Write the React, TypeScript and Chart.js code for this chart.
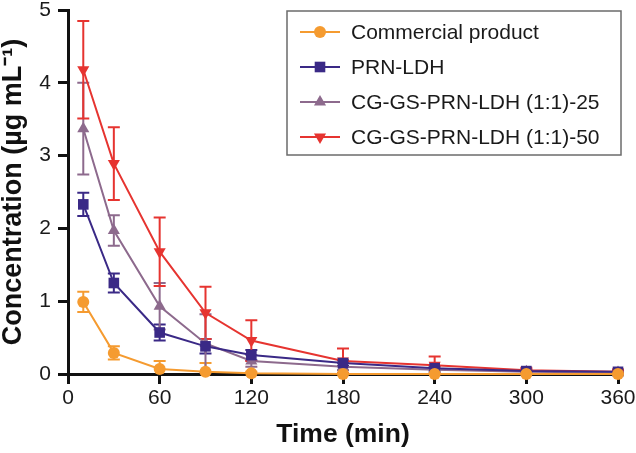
import React, { useEffect, useRef } from "react";
import { Chart, registerables } from "chart.js";

Chart.register(...registerables);

// ---- Data ----
const times = [10, 30, 60, 90, 120, 180, 240, 300, 360];
const seriesNames = [
  "Commercial product",
  "PRN-LDH",
  "CG-GS-PRN-LDH (1:1)-25",
  "CG-GS-PRN-LDH (1:1)-50",
];
const commercial = [0.99, 0.29, 0.07, 0.03, 0.01, 0.0, 0.0, 0.0, 0.0];
const commercialErr = [0.14, 0.09, 0.11, 0.12, 0.02, 0.01, 0.01, 0.01, 0.01];
const prnLdh = [2.33, 1.25, 0.57, 0.38, 0.26, 0.15, 0.08, 0.04, 0.03];
const prnLdhErr = [0.16, 0.13, 0.11, 0.1, 0.07, 0.04, 0.03, 0.02, 0.02];
const cg25 = [3.37, 1.97, 0.93, 0.42, 0.18, 0.1, 0.06, 0.03, 0.02];
const cg25Err = [0.63, 0.21, 0.32, 0.4, 0.08, 0.05, 0.03, 0.02, 0.02];
const cg50 = [4.18, 2.89, 1.68, 0.84, 0.46, 0.18, 0.12, 0.05, 0.03];
const cg50Err = [0.67, 0.5, 0.47, 0.36, 0.28, 0.17, 0.12, 0.03, 0.02];
const xTicks = [0, 60, 120, 180, 240, 300, 360];
const yTicks = [0, 1, 2, 3, 4, 5];

const seriesValues = [commercial, prnLdh, cg25, cg50];
const seriesErrors = [commercialErr, prnLdhErr, cg25Err, cg50Err];
const colors = ["#F59B30", "#3A2986", "#8D6A8D", "#E63430"];
const pointStyles = ["circle", "rect", "triangle", "triangle"];
const rotations = [0, 0, 0, 180];
const radii = [6, 7.5, 7, 7];

const FONT = "'Liberation Sans', Arial, sans-serif";

function drawMarker(ctx: CanvasRenderingContext2D, style: string, x: number, y: number, r: number, rot: number) {
  ctx.beginPath();
  if (style === "circle") {
    ctx.arc(x, y, r, 0, Math.PI * 2);
  } else if (style === "rect") {
    const s = r * Math.SQRT2;
    ctx.rect(x - s / 2, y - s / 2, s, s);
  } else {
    const a = (rot * Math.PI) / 180;
    for (let k = 0; k < 3; k++) {
      const ang = a - Math.PI / 2 + (k * 2 * Math.PI) / 3;
      const px = x + Math.cos(ang) * r;
      const py = y + Math.sin(ang) * r;
      if (k === 0) ctx.moveTo(px, py);
      else ctx.lineTo(px, py);
    }
    ctx.closePath();
  }
  ctx.fill();
}

const errorBarPlugin = {
  id: "errorBars",
  beforeDatasetsDraw(chart: any) {
    const ctx = chart.ctx as CanvasRenderingContext2D;
    const xs = chart.scales.x;
    const ys = chart.scales.y;
    ctx.save();
    seriesValues.forEach((vals, i) => {
      const errs = seriesErrors[i];
      ctx.strokeStyle = colors[i];
      ctx.lineWidth = 2;
      vals.forEach((v, j) => {
        const e = errs[j];
        const x = xs.getPixelForValue(times[j]);
        const yT = ys.getPixelForValue(v + e);
        const yB = ys.getPixelForValue(Math.max(0, v - e));
        const cap = 6;
        ctx.beginPath();
        ctx.moveTo(x, yT);
        ctx.lineTo(x, yB);
        ctx.moveTo(x - cap, yT);
        ctx.lineTo(x + cap, yT);
        if (v - e > 0) {
          ctx.moveTo(x - cap, yB);
          ctx.lineTo(x + cap, yB);
        }
        ctx.stroke();
      });
    });
    ctx.restore();
  },
};

const legendPlugin = {
  id: "boxLegend",
  afterDraw(chart: any) {
    const ctx = chart.ctx as CanvasRenderingContext2D;
    const left = 287;
    const top = 11;
    const right = 621;
    const bottom = 155;
    ctx.save();
    ctx.strokeStyle = "#6b6b6b";
    ctx.lineWidth = 1.5;
    ctx.fillStyle = "#ffffff";
    ctx.fillRect(left, top, right - left, bottom - top);
    ctx.strokeRect(left, top, right - left, bottom - top);
    seriesNames.forEach((name, i) => {
      const y = 32 + i * 35;
      ctx.strokeStyle = colors[i];
      ctx.fillStyle = colors[i];
      ctx.lineWidth = 2;
      ctx.beginPath();
      ctx.moveTo(300, y);
      ctx.lineTo(340, y);
      ctx.stroke();
      drawMarker(ctx, pointStyles[i], 320, y, radii[i], rotations[i]);
      ctx.fillStyle = "#1a1a1a";
      ctx.font = `21px ${FONT}`;
      ctx.textBaseline = "middle";
      ctx.textAlign = "left";
      ctx.fillText(name, 351, y + 1);
    });
    ctx.restore();
  },
};

export default function App() {
  const canvasRef = useRef<HTMLCanvasElement | null>(null);

  useEffect(() => {
    if (!canvasRef.current) return;
    const chart = new Chart(canvasRef.current, {
      type: "line",
      data: {
        datasets: seriesValues.map((vals, i) => ({
          label: seriesNames[i],
          data: vals.map((v, j) => ({ x: times[j], y: v })),
          borderColor: colors[i],
          backgroundColor: colors[i],
          borderWidth: 2,
          pointStyle: pointStyles[i] as any,
          rotation: rotations[i],
          pointRadius: radii[i],
          pointBorderWidth: 0,
          pointHoverRadius: radii[i],
          tension: 0,
          clip: false as any,
          fill: false,
        })),
      },
      options: {
        animation: false,
        responsive: false,
        maintainAspectRatio: false,
        events: [],
        layout: { padding: { top: 10, right: 18, left: 0, bottom: 0 } },
        plugins: {
          legend: { display: false },
          tooltip: { enabled: false },
        },
        scales: {
          x: {
            type: "linear",
            min: 0,
            max: 360,
            afterFit: (s: any) => {
              s.height = 79;
              s.paddingLeft = 0;
              s.paddingRight = 0;
            },
            afterBuildTicks: (s: any) => {
              s.ticks = xTicks.map((v) => ({ value: v }));
            },
            border: { display: true, color: "#111", width: 3 },
            grid: {
              drawOnChartArea: false,
              drawTicks: true,
              tickLength: 10,
              tickWidth: 3,
              tickColor: "#111",
            },
            ticks: {
              color: "#1a1a1a",
              font: { family: FONT, size: 21 },
              padding: 2,
              maxRotation: 0,
              autoSkip: false,
            },
            title: {
              display: true,
              text: "Time (min)",
              color: "#111",
              font: { family: FONT, size: 26.5, weight: "bold", lineHeight: 1.2 },
              padding: { top: 0, bottom: 2 },
            },
          },
          y: {
            type: "linear",
            min: 0,
            max: 5,
            afterFit: (s: any) => {
              s.width = 68;
              s.paddingTop = 0;
              s.paddingBottom = 0;
            },
            afterBuildTicks: (s: any) => {
              s.ticks = yTicks.map((v) => ({ value: v }));
            },
            border: { display: true, color: "#111", width: 3 },
            grid: {
              drawOnChartArea: false,
              drawTicks: true,
              tickLength: 10,
              tickWidth: 3,
              tickColor: "#111",
            },
            ticks: {
              color: "#1a1a1a",
              font: { family: FONT, size: 21 },
              padding: 7,
              autoSkip: false,
            },
            title: {
              display: true,
              text: "Concentration (µg mL\u207B\u00B9)",
              color: "#111",
              font: { family: FONT, size: 27, weight: "bold", lineHeight: 1 },
              padding: { top: 0, bottom: 0 },
            },
          },
        },
      },
      plugins: [errorBarPlugin, legendPlugin],
    } as any);
    return () => chart.destroy();
  }, []);

  return (
    <div style={{ position: "absolute", left: 0, top: 0, width: 636, height: 453, background: "#fff" }}>
      <canvas ref={canvasRef} width={636} height={453} style={{ display: "block", width: 636, height: 453 }} />
    </div>
  );
}
